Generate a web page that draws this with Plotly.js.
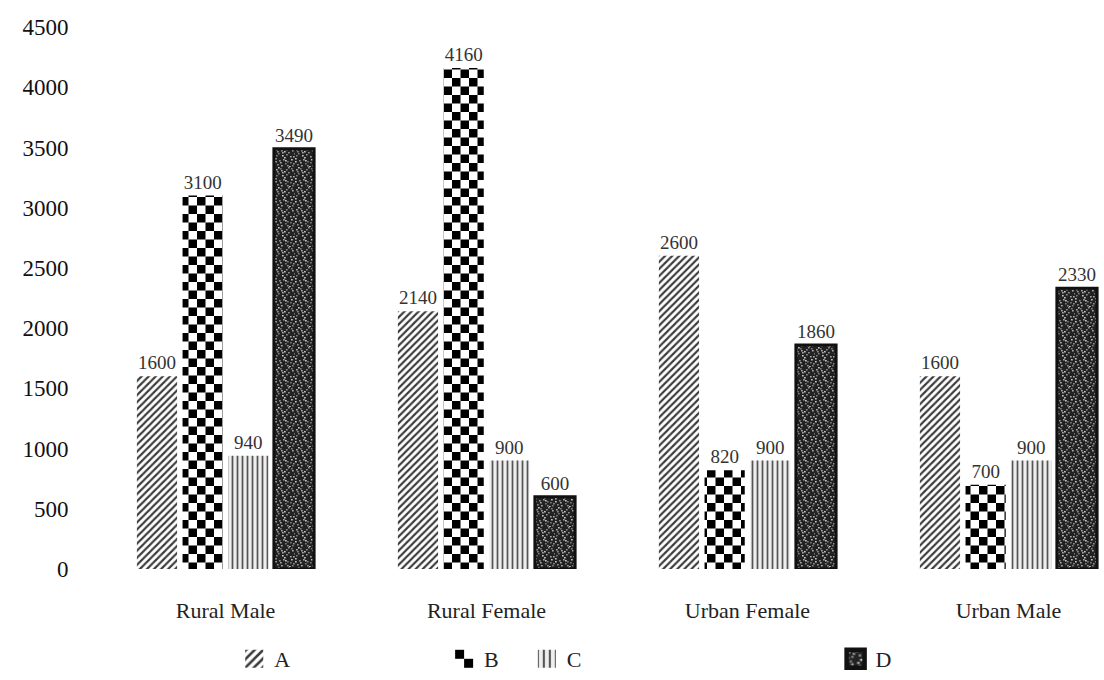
<!DOCTYPE html>
<html><head><meta charset="utf-8">
<script src="https://cdn.plot.ly/plotly-3.0.1.min.js"></script>
<style>html,body{margin:0;padding:0;background:#fff}#chart{width:1104px;height:680px}</style>
</head><body><div id="chart"></div>
<script>
const categories = ['Rural Male', 'Rural Female', 'Urban Female', 'Urban Male'];
const seriesNames = ['A', 'B', 'C', 'D'];
const valuesA = [1600, 2140, 2600, 1600];
const valuesB = [3100, 4160, 820, 700];
const valuesC = [940, 900, 900, 900];
const valuesD = [3490, 600, 1860, 2330];
const yTickVals = [0, 500, 1000, 1500, 2000, 2500, 3000, 3500, 4000, 4500];

const serif = 'Liberation Serif, Times New Roman, serif';

function mk(name, vals, pattern, line, legendId) {
  return {
    type: 'bar', name: name, x: categories, y: vals,
    text: vals.map(String), textposition: 'outside', cliponaxis: false,
    textfont: {family: serif, size: 19, color: '#333'},
    marker: {color: '#ffffff', pattern: pattern, line: line},
    legend: legendId, hoverinfo: 'none'
  };
}

const traces = [
  mk(seriesNames[0], valuesA, {shape: '/', fgcolor: '#3a3a3a', bgcolor: '#ffffff', size: 5, solidity: 0.42}, {width: 0}, 'legend'),
  mk(seriesNames[1], valuesB, {shape: 'x', fgcolor: '#010203', bgcolor: '#ffffff', size: 10, solidity: 0.4}, {width: 0}, 'legend2'),
  mk(seriesNames[2], valuesC, {shape: '|', fgcolor: '#555555', bgcolor: '#eeeeee', size: 5, solidity: 0.35}, {width: 0}, 'legend3'),
  mk(seriesNames[3], valuesD, {shape: '.', fgcolor: '#8a8a8b', bgcolor: '#1e1e1e', size: 5, solidity: 0.15}, {width: 3, color: '#111111'}, 'legend4')
];

function leg(x) {
  return {x: x, y: -0.167, xanchor: 'left', yanchor: 'middle', orientation: 'h',
    font: {family: serif, size: 22, color: '#222'}, bgcolor: 'rgba(0,0,0,0)'};
}

const layout = {
  width: 1104, height: 680,
  paper_bgcolor: '#ffffff', plot_bgcolor: '#ffffff',
  margin: {l: 95, r: 0, t: 27, b: 108},
  barmode: 'group', bargap: 0.3, bargroupgap: 0.12,
  showlegend: true,
  legend: leg(0.138), legend2: leg(0.346), legend3: leg(0.428), legend4: leg(0.734),
  xaxis: {
    type: 'category', range: [-0.5, 3.366], showline: false, showgrid: false, zeroline: false,
    ticks: 'outside', ticklen: 22, tickcolor: 'rgba(0,0,0,0)',
    tickfont: {family: serif, size: 22, color: '#222'}
  },
  yaxis: {
    range: [0, 4500], tickvals: yTickVals, ticktext: yTickVals.map(String),
    showline: false, showgrid: false, zeroline: false,
    ticks: 'outside', ticklen: 21, tickcolor: 'rgba(0,0,0,0)',
    tickfont: {family: serif, size: 23, color: '#111'}
  }
};

const SPECKS = [[1,2],[5,1],[9,4],[13,0],[17,3],[3,6],[7,8],[11,7],[15,9],[19,6],
  [0,11],[4,13],[8,12],[12,14],[16,12],[2,17],[6,18],[10,16],[14,19],[18,16],[6,3],[15,15],
  [3,0],[11,2],[18,9],[1,8],[9,10],[13,5],[5,15],[17,18],[0,14],[12,18],[7,5],[16,1],[10,13],[2,4]];
const SPECK_COLS = ['#a8a8a8', '#7a7a7a', '#c4c4c4', '#8e8e8e'];

function norm(c) { return (c || '').replace(/\s/g, '').toLowerCase(); }
function retile(gd) {
  const NS = 'http://www.w3.org/2000/svg';
  gd.querySelectorAll('pattern').forEach(function(p) {
    const kids = Array.from(p.children);
    const sig = kids.map(function(k) {
      return norm(k.getAttribute('stroke')) + '|' + norm(k.getAttribute('fill')) + '|' + norm(k.style.fill) + '|' + norm(k.style.stroke);
    }).join(' ');
    function rect(x, y, w, h, fill) {
      const r = document.createElementNS(NS, 'rect');
      r.setAttribute('x', x); r.setAttribute('y', y);
      r.setAttribute('width', w); r.setAttribute('height', h);
      r.setAttribute('fill', fill);
      p.appendChild(r);
    }
    if (sig.indexOf('rgb(1,2,3)') >= 0 || sig.indexOf('#010203') >= 0) {
      kids.forEach(function(k) { p.removeChild(k); });
      p.removeAttribute('patternTransform');
      p.setAttribute('width', '17px'); p.setAttribute('height', '17px');
      rect(0, 0, 17, 17, '#ffffff');
      rect(0, 0, 8.5, 8.5, '#000000');
      rect(8.5, 8.5, 8.5, 8.5, '#000000');
    } else if (sig.indexOf('rgb(138,138,139)') >= 0 || sig.indexOf('#8a8a8b') >= 0) {
      kids.forEach(function(k) { p.removeChild(k); });
      p.removeAttribute('patternTransform');
      p.setAttribute('width', '20px'); p.setAttribute('height', '20px');
      rect(0, 0, 20, 20, '#222222');
      SPECKS.forEach(function(s, i) { rect(s[0], s[1], 1.7, 1.5, SPECK_COLS[i % SPECK_COLS.length]); });
    }
  });
  gd.querySelectorAll('g.legendpoints path').forEach(function(el) {
    if (el.getAttribute('data-scaled')) return;
    const t = el.getAttribute('transform') || '';
    el.setAttribute('transform', t + ' scale(1.5)');
    el.setAttribute('data-scaled', '1');
  });
}

const gd = document.getElementById('chart');
Plotly.newPlot(gd, traces, layout, {displayModeBar: false, staticPlot: true}).then(function() {
  retile(gd);
  gd.on && gd.on('plotly_afterplot', function() { retile(gd); });
});
</script>
</body></html>
